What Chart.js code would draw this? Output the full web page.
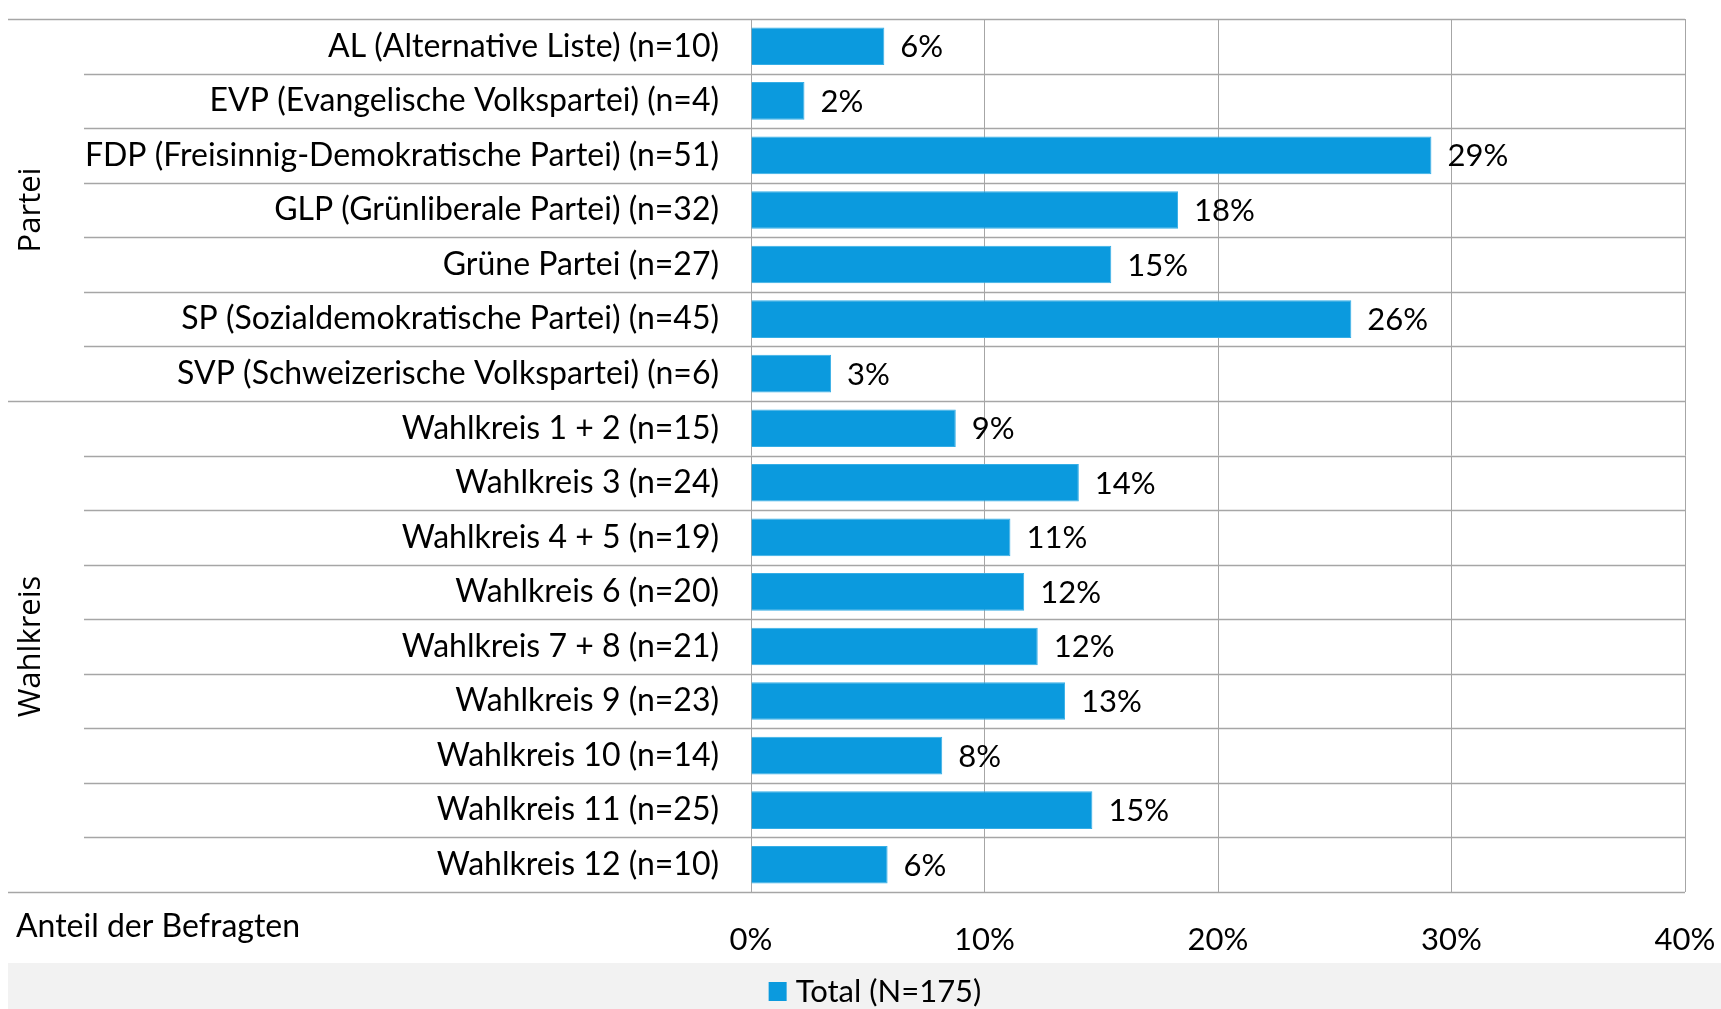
<!DOCTYPE html>
<html>
<head>
<meta charset="utf-8">
<script src="https://cdn.jsdelivr.net/npm/chart.js@4.4.1/dist/chart.umd.min.js"></script>
<style>
  body { margin: 0; background: #fff; }
  #wrap { width: 1721px; height: 1009px; }
</style>
</head>
<body>
<div id="wrap"><canvas id="chart" width="1721" height="1009"></canvas></div>
<script>
const categories = [
    'AL (Alternative Liste) (n=10)',
    'EVP (Evangelische Volkspartei) (n=4)',
    'FDP (Freisinnig-Demokratische Partei) (n=51)',
    'GLP (Grünliberale Partei) (n=32)',
    'Grüne Partei (n=27)',
    'SP (Sozialdemokratische Partei) (n=45)',
    'SVP (Schweizerische Volkspartei) (n=6)',
    'Wahlkreis 1 + 2 (n=15)',
    'Wahlkreis 3 (n=24)',
    'Wahlkreis 4 + 5 (n=19)',
    'Wahlkreis 6 (n=20)',
    'Wahlkreis 7 + 8 (n=21)',
    'Wahlkreis 9 (n=23)',
    'Wahlkreis 10 (n=14)',
    'Wahlkreis 11 (n=25)',
    'Wahlkreis 12 (n=10)'
];
const totalValues = [5.71, 2.29, 29.14, 18.29, 15.43, 25.71, 3.43,
                     8.77, 14.04, 11.11, 11.70, 12.28, 13.45, 8.19, 14.62, 5.85];
const groupNames = ['Partei', 'Wahlkreis'];
const groupSizes = [7, 9];
const xTicks = [0, 10, 20, 30, 40];
const seriesName = 'Total (N=175)';
const axisTitle = 'Anteil der Befragten';

const barColor = '#0b9ade';
const lineColor = '#a6a6a6';
const fontFamily = 'Lato, "Open Sans", sans-serif';
const labelFont = '31px ' + fontFamily;

// extra drawing: row lines, group labels, value labels, legend band
const decorations = {
    id: 'decorations',
    beforeDraw(chart) {
        const c = chart.ctx;
        c.save();
        c.fillStyle = '#f2f2f2';
        c.fillRect(8, 963, chart.width - 8, chart.height - 963);
        c.restore();
    },
    beforeDatasetsDraw(chart) {
        const c = chart.ctx;
        const area = chart.chartArea;
        const rowH = (area.bottom - area.top) / categories.length;
        const groupEdges = [0];
        groupSizes.forEach(n => groupEdges.push(groupEdges[groupEdges.length - 1] + n));
        c.save();
        c.strokeStyle = lineColor;
        c.lineWidth = 1.5;
        for (let i = 0; i <= categories.length; i++) {
            const y = Math.round(area.top + i * rowH) + 0.5;
            const x0 = groupEdges.includes(i) ? 8 : 84;
            c.beginPath();
            c.moveTo(x0, y);
            c.lineTo(area.right, y);
            c.stroke();
        }
        // group names, rotated
        c.fillStyle = '#000';
        c.font = '31px "Open Sans", sans-serif';
        c.textAlign = 'center';
        c.textBaseline = 'middle';
        groupNames.forEach((name, g) => {
            const yMid = area.top + (groupEdges[g] + groupEdges[g + 1]) / 2 * rowH;
            c.save();
            c.translate(31, yMid);
            c.rotate(-Math.PI / 2);
            c.fillText(name, 0, 0);
            c.restore();
        });
        c.restore();
    },
    afterDatasetsDraw(chart) {
        const c = chart.ctx;
        const meta = chart.getDatasetMeta(0);
        c.save();
        c.fillStyle = '#000';
        c.font = labelFont;
        c.textAlign = 'left';
        c.textBaseline = 'middle';
        meta.data.forEach((bar, i) => {
            c.fillText(Math.round(totalValues[i]) + '%', bar.x + 16, bar.y + 1);
        });
        // axis title
        c.font = '32px ' + fontFamily;
        c.fillText(axisTitle, 16, 927);
        // legend
        c.font = labelFont;
        const tw = c.measureText(seriesName).width;
        const w = 18 + 9 + tw;
        const x0 = 875 - w / 2;
        c.fillStyle = barColor;
        c.fillRect(x0, 982, 18, 19);
        c.fillStyle = '#000';
        c.fillText(seriesName, x0 + 27, 992);
        c.restore();
    }
};

const ctx = document.getElementById('chart');

new Chart(ctx, {
    type: 'bar',
    data: {
        labels: categories,
        datasets: [{
            label: seriesName,
            data: totalValues,
            backgroundColor: barColor,
            borderColor: '#36aee6',
            borderWidth: 1,
            barPercentage: 0.69,
            categoryPercentage: 1
        }]
    },
    options: {
        indexAxis: 'y',
        responsive: false,
        animation: false,
        layout: {
            padding: { top: 19, right: 36, bottom: 47, left: 0 }
        },
        scales: {
            x: {
                min: 0,
                max: 40,
                afterBuildTicks: scale => { scale.ticks = xTicks.map(v => ({ value: v })); },
                afterFit: scale => {
                    scale.height = 70;
                    scale.paddingLeft = 0;
                    scale.paddingRight = 0;
                },
                grid: { color: lineColor, lineWidth: 1, drawTicks: false },
                border: { display: false },
                ticks: {
                    padding: 29,
                    color: '#000',
                    font: { family: fontFamily, size: 31 },
                    callback: v => v + '%'
                }
            },
            y: {
                afterFit: scale => {
                    scale.width = 751;
                    scale.paddingTop = 0;
                    scale.paddingBottom = 0;
                },
                grid: { display: false, drawTicks: false },
                border: { display: false },
                ticks: {
                    padding: 32,
                    color: '#000',
                    font: { family: fontFamily, size: 32 }
                }
            }
        },
        plugins: {
            legend: { display: false },
            tooltip: { enabled: false }
        }
    },
    plugins: [decorations]
});
</script>
</body>
</html>
